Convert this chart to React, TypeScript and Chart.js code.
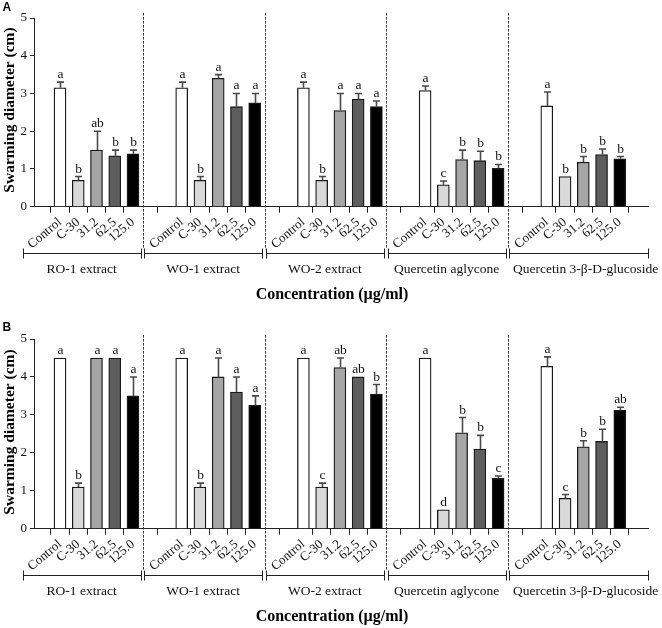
import React, { useEffect, useRef } from "react";
import { Chart, registerables } from "chart.js";

Chart.register(...registerables);

// ---------- data ----------
const groups = ["RO-1 extract", "WO-1 extract", "WO-2 extract", "Quercetin aglycone", "Quercetin 3-β-D-glucoside"];
const concentrations = ["Control", "C-30", "31.2", "62.5", "125.0"];
const yTicks = [0, 1, 2, 3, 4, 5];

// Panel A (means, upward SD, significance letters), one row per group
const meanA = [
  [3.15, 0.7, 1.5, 1.35, 1.4],
  [3.15, 0.7, 3.4, 2.65, 2.75],
  [3.15, 0.7, 2.55, 2.85, 2.65],
  [3.08, 0.58, 1.25, 1.22, 1.02],
  [2.67, 0.8, 1.18, 1.38, 1.27],
];
const errA = [
  [0.15, 0.1, 0.5, 0.15, 0.1],
  [0.15, 0.1, 0.1, 0.35, 0.25],
  [0.15, 0.1, 0.45, 0.15, 0.15],
  [0.12, 0.1, 0.25, 0.25, 0.1],
  [0.37, 0.0, 0.15, 0.15, 0.06],
];
const sigA = [
  ["a", "b", "ab", "b", "b"],
  ["a", "b", "a", "a", "a"],
  ["a", "b", "a", "a", "a"],
  ["a", "c", "b", "b", "b"],
  ["a", "b", "b", "b", "b"],
];

// Panel B
const meanB = [
  [4.5, 1.1, 4.5, 4.5, 3.5],
  [4.5, 1.1, 4.0, 3.6, 3.25],
  [4.5, 1.1, 4.25, 4.0, 3.55],
  [4.5, 0.5, 2.53, 2.1, 1.33],
  [4.28, 0.8, 2.16, 2.3, 3.12],
];
const errB = [
  [0, 0.1, 0, 0, 0.5],
  [0, 0.1, 0.5, 0.4, 0.25],
  [0, 0.1, 0.25, 0, 0.25],
  [0, 0, 0.4, 0.36, 0.06],
  [0.25, 0.1, 0.16, 0.32, 0.08],
];
const sigB = [
  ["a", "b", "a", "a", "a"],
  ["a", "b", "a", "a", "a"],
  ["a", "c", "ab", "ab", "b"],
  ["a", "d", "b", "b", "c"],
  ["a", "c", "b", "b", "ab"],
];

// ---------- style / layout ----------
const FILLS = ["#ffffff", "#d9d9d9", "#a6a6a6", "#5e5e5e", "#000000"];
const SERIF = "'Liberation Serif', 'Times New Roman', serif";
const SANS = "'Liberation Sans', Arial, sans-serif";
const W = 662;
const AXIS_LEFT = 34;
const AXIS_RIGHT = 648;
const X_SPAN = AXIS_RIGHT - AXIS_LEFT; // scale units = px
const FIRST = 26;
const GROUP_STEP = 121.7;
const BAR_STEP = 18.25;
const DIV_OFFSET = 82.8;

const pos = (g: number, i: number) => FIRST + g * GROUP_STEP + i * BAR_STEP;
const tickPositions = groups.flatMap((_, g) => concentrations.map((_, i) => pos(g, i)));

type PanelProps = {
  letter: string;
  means: number[][];
  errs: number[][];
  sigs: string[][];
  height: number;
  top: number;
  bottom: number;
  letterY: number;
  titleCenter: number;
};

function Panel(p: PanelProps) {
  const ref = useRef<HTMLCanvasElement | null>(null);
  useEffect(() => {
    if (!ref.current) return;
    const flatMeans = p.means.flat();
    const overlay = {
      id: "overlay" + p.letter,
      afterDatasetsDraw(chart: any) {
        const { ctx, chartArea } = chart;
        const x = chart.scales.x;
        const y = chart.scales.y;
        ctx.save();
        // error bars + letters
        p.means.forEach((row, g) =>
          row.forEach((m, i) => {
            const px = Math.round(x.getPixelForValue(pos(g, i))) + 0.5;
            const e = p.errs[g][i];
            const yv = y.getPixelForValue(m);
            const yt = y.getPixelForValue(m + e);
            if (e > 0) {
              ctx.strokeStyle = "#4a4a4a";
              ctx.lineWidth = 1.6;
              ctx.beginPath();
              ctx.moveTo(px, yv);
              ctx.lineTo(px, yt);
              ctx.moveTo(px - 3.5, yt);
              ctx.lineTo(px + 3.5, yt);
              ctx.stroke();
            }
            ctx.fillStyle = "#111";
            ctx.font = `13.5px ${SERIF}`;
            ctx.textAlign = "center";
            ctx.textBaseline = "alphabetic";
            ctx.fillText(p.sigs[g][i], px, yt - 4);
          })
        );
        const bracketY = chartArea.bottom + 46.5;
        // dashed dividers
        ctx.strokeStyle = "#333";
        ctx.lineWidth = 1;
        ctx.setLineDash([2.5, 1.5]);
        for (let g = 0; g < groups.length - 1; g++) {
          const dx = Math.round(x.getPixelForValue(pos(g, 0) + DIV_OFFSET)) + 0.5;
          ctx.beginPath();
          ctx.moveTo(dx, 13);
          ctx.lineTo(dx, bracketY - 4);
          ctx.stroke();
        }
        ctx.setLineDash([]);
        // brackets + group labels
        ctx.strokeStyle = "#222";
        ctx.lineWidth = 1;
        groups.forEach((name, g) => {
          const start =
            g === 0 ? x.getPixelForValue(pos(0, 0) - 37.3) : x.getPixelForValue(pos(g - 1, 0) + DIV_OFFSET + 1.3);
          const end =
            g === groups.length - 1 ? x.getPixelForValue(X_SPAN) : x.getPixelForValue(pos(g, 0) + DIV_OFFSET - 2.3);
          const s = Math.round(start) + 0.5;
          const en = Math.round(end) + 0.5;
          const by = Math.round(bracketY) + 0.5;
          ctx.beginPath();
          ctx.moveTo(s, by);
          ctx.lineTo(en, by);
          ctx.moveTo(s, by - 5);
          ctx.lineTo(s, by + 5);
          ctx.moveTo(en, by - 5);
          ctx.lineTo(en, by + 5);
          ctx.stroke();
          ctx.fillStyle = "#111";
          ctx.font = `13.5px ${SERIF}`;
          ctx.textAlign = "center";
          ctx.textBaseline = "middle";
          const cx = g === groups.length - 1 ? (start + end) / 2 + 7 : (start + end) / 2;
          ctx.fillText(name, cx, chartArea.bottom + 63);
        });
        // x title
        ctx.fillStyle = "#000";
        ctx.font = `bold 16px ${SERIF}`;
        ctx.textAlign = "center";
        ctx.textBaseline = "middle";
        ctx.fillText("Concentration (µg/ml)", 332, chartArea.bottom + 88.3);
        // y title
        ctx.save();
        ctx.translate(13.5, p.titleCenter);
        ctx.rotate(-Math.PI / 2);
        ctx.font = `bold 15.5px ${SERIF}`;
        ctx.textAlign = "center";
        ctx.textBaseline = "alphabetic";
        ctx.fillText("Swarming diameter (cm)", 0, 0);
        ctx.restore();
        // panel letter
        ctx.font = `bold 12px ${SANS}`;
        ctx.textAlign = "left";
        ctx.textBaseline = "alphabetic";
        ctx.fillText(p.letter, 2.5, p.letterY);
        ctx.restore();
      },
    };

    const chart = new Chart(ref.current, {
      type: "bar",
      data: {
        datasets: [
          {
            data: tickPositions.map((xv, i) => ({ x: xv, y: flatMeans[i] })),
            backgroundColor: tickPositions.map((_, i) => FILLS[i % concentrations.length]),
            borderColor: "#1a1a1a",
            borderWidth: 1.3,
            barThickness: 12,
          } as any,
        ],
      },
      options: {
        responsive: false,
        animation: false,
        events: [],
        layout: { padding: { top: p.top, right: W - AXIS_RIGHT, left: 0, bottom: 0 } },
        plugins: { legend: { display: false }, tooltip: { enabled: false } },
        scales: {
          x: {
            type: "linear",
            min: 0,
            max: X_SPAN,
            offset: false,
            afterBuildTicks: (axis: any) => {
              axis.ticks = tickPositions.map((v) => ({ value: v }));
            },
            afterFit: (axis: any) => {
              axis.height = p.height - p.bottom;
            },
            ticks: {
              autoSkip: false,
              maxRotation: 40,
              minRotation: 40,
              padding: 2,
              color: "#111",
              font: { family: SERIF, size: 13 },
              callback: (_v: any, idx: number) => concentrations[idx % concentrations.length],
            },
            grid: { drawOnChartArea: false, drawTicks: true, tickLength: 6, color: "#222", lineWidth: 1 },
            border: { display: true, color: "#222", width: 1 },
          },
          y: {
            min: 0,
            max: 5,
            afterBuildTicks: (axis: any) => {
              axis.ticks = yTicks.map((v) => ({ value: v }));
            },
            afterFit: (axis: any) => {
              axis.width = AXIS_LEFT;
            },
            ticks: {
              padding: 3,
              color: "#111",
              font: { family: SERIF, size: 13 },
            },
            grid: { drawOnChartArea: false, drawTicks: true, tickLength: 4, color: "#222", lineWidth: 1 },
            border: { display: true, color: "#222", width: 1 },
          },
        },
      } as any,
      plugins: [overlay],
    });
    return () => chart.destroy();
  }, []);
  return <canvas ref={ref} width={W} height={p.height} style={{ display: "block", width: W, height: p.height }} />;
}

export default function App() {
  return (
    <div style={{ position: "absolute", left: 0, top: 0, width: W, height: 628, background: "#fff" }}>
      <Panel letter="A" means={meanA} errs={errA} sigs={sigA} height={322} top={18} bottom={206.7} letterY={11} titleCenter={110} />
      <Panel letter="B" means={meanB} errs={errB} sigs={sigB} height={306} top={17} bottom={206.7} letterY={9} titleCenter={110} />
    </div>
  );
}
